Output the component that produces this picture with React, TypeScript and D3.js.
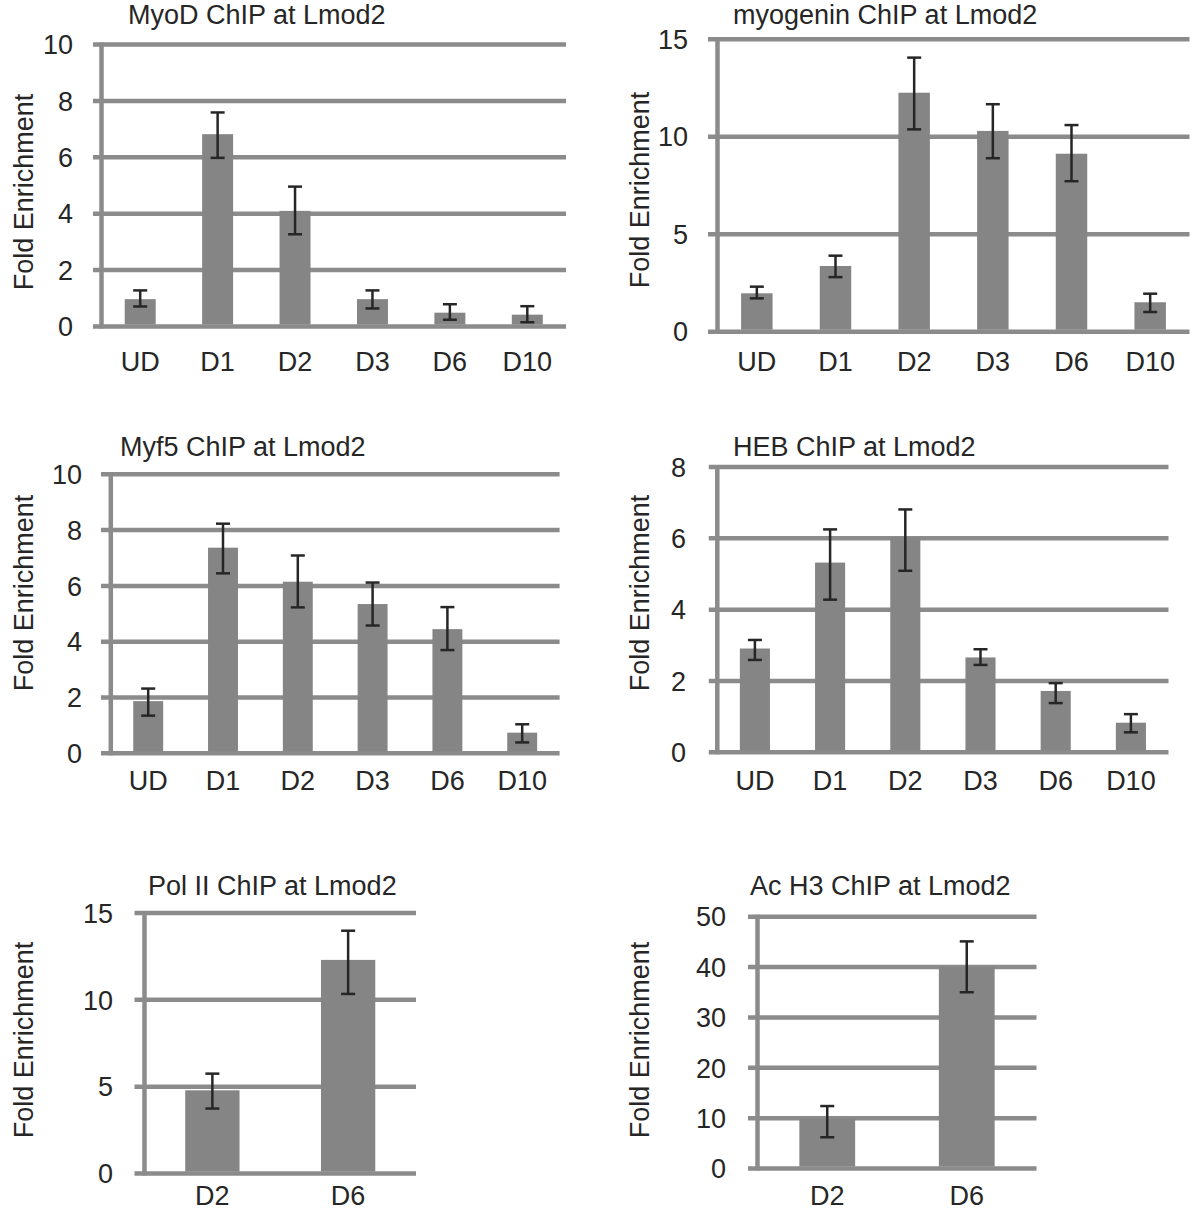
import React from "react";
import * as d3 from "d3";

// ---------- data ----------
const timeCats = ["UD", "D1", "D2", "D3", "D6", "D10"];
const dayCats = ["D2", "D6"];

const myodValues = [0.97, 6.82, 4.1, 0.97, 0.49, 0.42];
const myodLow = [0.71, 5.98, 3.27, 0.64, 0.24, 0.15];
const myodHigh = [1.28, 7.59, 4.96, 1.28, 0.79, 0.72];
const myodTicks = [0, 2, 4, 6, 8, 10];

const myogeninValues = [1.97, 3.37, 12.26, 10.3, 9.13, 1.51];
const myogeninLow = [1.71, 2.8, 10.38, 8.9, 7.72, 1.01];
const myogeninHigh = [2.31, 3.9, 14.06, 11.67, 10.6, 1.95];
const myogeninTicks = [0, 5, 10, 15];

const myf5Values = [1.87, 7.37, 6.15, 5.35, 4.45, 0.74];
const myf5Low = [1.35, 6.45, 5.23, 4.58, 3.7, 0.39];
const myf5High = [2.32, 8.23, 7.09, 6.12, 5.24, 1.04];
const myf5Ticks = [0, 2, 4, 6, 8, 10];

const hebValues = [2.91, 5.32, 6.03, 2.66, 1.72, 0.83];
const hebLow = [2.59, 4.28, 5.09, 2.45, 1.38, 0.56];
const hebHigh = [3.15, 6.25, 6.81, 2.89, 1.94, 1.07];
const hebTicks = [0, 2, 4, 6, 8];

const pol2Values = [4.79, 12.3];
const pol2Low = [3.74, 10.34];
const pol2High = [5.75, 13.98];
const pol2Ticks = [0, 5, 10, 15];

const acH3Values = [9.9, 40.0];
const acH3Low = [6.2, 35.0];
const acH3High = [12.4, 45.1];
const acH3Ticks = [0, 10, 20, 30, 40, 50];

const yTitle = "Fold Enrichment";

// ---------- styles ----------
const FONT = "'Liberation Sans', Arial, Helvetica, sans-serif";
const GRID = "#8b8b8b";
const BAR = "#858585";
const TEXT = "#262626";
const ERR = "#262626";

type Layout = {
  axisX: number;
  gridStart: number;
  gridEnd: number;
  y0: number;
  yTop: number;
  titleX: number;
  titleY: number;
  tickRight: number;
  catY: number;
  yTitleX: number;
  yTitleY: number;
};

type PanelProps = {
  title: string;
  cats: string[];
  values: number[];
  low: number[];
  high: number[];
  ticks: number[];
  L: Layout;
};

function Panel({ title, cats, values, low, high, ticks, L }: PanelProps) {
  const max = ticks[ticks.length - 1];
  const x = d3
    .scaleBand<string>()
    .domain(cats)
    .range([L.axisX, L.gridEnd])
    .paddingInner(0.6)
    .paddingOuter(0.3);
  const y = d3.scaleLinear().domain([0, max]).range([L.y0, L.yTop]);
  const bw = x.bandwidth();
  const cap = 7;
  return (
    <g>
      <text x={L.titleX} y={L.titleY} fontFamily={FONT} fontSize={27} fill={TEXT}>
        {title}
      </text>
      <text
        transform={`translate(${L.yTitleX},${L.yTitleY}) rotate(-90)`}
        textAnchor="middle"
        fontFamily={FONT}
        fontSize={27}
        fill={TEXT}
      >
        {yTitle}
      </text>
      {ticks.map((t) => (
        <g key={"t" + t}>
          <line x1={L.gridStart} x2={L.gridEnd} y1={y(t)} y2={y(t)} stroke={GRID} strokeWidth={4.5} />
          <text
            x={L.tickRight}
            y={y(t)}
            dy="0.36em"
            textAnchor="end"
            fontFamily={FONT}
            fontSize={27}
            fill={TEXT}
          >
            {t}
          </text>
        </g>
      ))}
      <line x1={L.axisX} x2={L.axisX} y1={y(max) - 2} y2={y(0) + 2} stroke={GRID} strokeWidth={4.5} />
      {cats.map((c, i) => {
        const bx = x(c) as number;
        const cx = bx + bw / 2;
        return (
          <g key={c}>
            <rect x={bx} y={y(values[i])} width={bw} height={y(0) - y(values[i]) - 2} fill={BAR} />
            <line x1={cx} x2={cx} y1={y(high[i])} y2={y(low[i])} stroke={ERR} strokeWidth={2.5} />
            <line x1={cx - cap} x2={cx + cap} y1={y(high[i])} y2={y(high[i])} stroke={ERR} strokeWidth={2.5} />
            <line x1={cx - cap} x2={cx + cap} y1={y(low[i])} y2={y(low[i])} stroke={ERR} strokeWidth={2.5} />
            <text x={cx} y={L.catY} textAnchor="middle" fontFamily={FONT} fontSize={27} fill={TEXT}>
              {c}
            </text>
          </g>
        );
      })}
    </g>
  );
}

const L1: Layout = { axisX: 101.5, gridStart: 93, gridEnd: 566, y0: 326.5, yTop: 44.5, titleX: 128, titleY: 24, tickRight: 73, catY: 371, yTitleX: 33, yTitleY: 192 };
const L2: Layout = { axisX: 717.5, gridStart: 708, gridEnd: 1189.5, y0: 331.7, yTop: 39.3, titleX: 733, titleY: 24, tickRight: 688, catY: 371, yTitleX: 649, yTitleY: 190 };
const L3: Layout = { axisX: 110.8, gridStart: 101, gridEnd: 559.6, y0: 753.3, yTop: 474.3, titleX: 120, titleY: 456, tickRight: 82, catY: 790, yTitleX: 33, yTitleY: 593 };
const L4: Layout = { axisX: 717.3, gridStart: 708.8, gridEnd: 1168.5, y0: 752.3, yTop: 467, titleX: 733, titleY: 456, tickRight: 686, catY: 790, yTitleX: 649, yTitleY: 593 };
const L5: Layout = { axisX: 144.5, gridStart: 134.5, gridEnd: 416, y0: 1173.5, yTop: 913, titleX: 148, titleY: 895, tickRight: 113, catY: 1205, yTitleX: 33, yTitleY: 1040 };
const L6: Layout = { axisX: 757.5, gridStart: 748, gridEnd: 1036.5, y0: 1168.5, yTop: 916.7, titleX: 750, titleY: 895, tickRight: 726, catY: 1205, yTitleX: 649, yTitleY: 1040 };

export default function App() {
  return (
    <svg
      width={1200}
      height={1215}
      viewBox="0 0 1200 1215"
      style={{ position: "absolute", left: 0, top: 0, background: "#fff" }}
    >
      <rect x={0} y={0} width={1200} height={1215} fill="#fff" />
      <Panel title="MyoD ChIP at Lmod2" cats={timeCats} values={myodValues} low={myodLow} high={myodHigh} ticks={myodTicks} L={L1} />
      <Panel title="myogenin ChIP at Lmod2" cats={timeCats} values={myogeninValues} low={myogeninLow} high={myogeninHigh} ticks={myogeninTicks} L={L2} />
      <Panel title="Myf5 ChIP at Lmod2" cats={timeCats} values={myf5Values} low={myf5Low} high={myf5High} ticks={myf5Ticks} L={L3} />
      <Panel title="HEB ChIP at Lmod2" cats={timeCats} values={hebValues} low={hebLow} high={hebHigh} ticks={hebTicks} L={L4} />
      <Panel title="Pol II ChIP at Lmod2" cats={dayCats} values={pol2Values} low={pol2Low} high={pol2High} ticks={pol2Ticks} L={L5} />
      <Panel title="Ac H3 ChIP at Lmod2" cats={dayCats} values={acH3Values} low={acH3Low} high={acH3High} ticks={acH3Ticks} L={L6} />
    </svg>
  );
}
